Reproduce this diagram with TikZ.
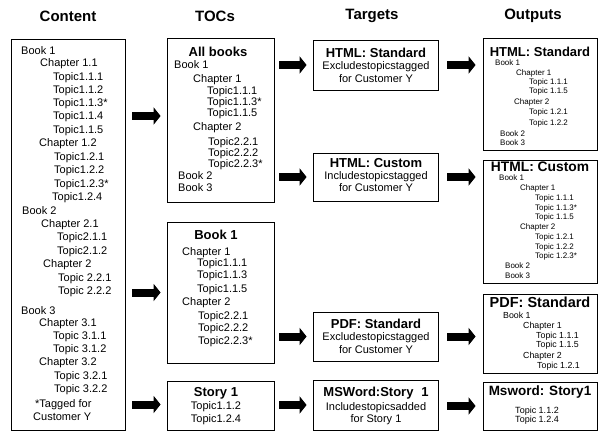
\documentclass[tikz,border=0pt]{standalone}
\usepackage{fontspec}
\setmainfont{Liberation Sans}
\usetikzlibrary{arrows.meta}
\begin{document}
\begin{tikzpicture}[x=1pt,y=-1pt,
  box/.style={draw=black, line width=0.8pt, inner sep=0pt},
  hdr/.style={font=\fontsize{15}{17}\selectfont\bfseries, inner sep=0pt},
  ttl/.style={font=\fontsize{13}{15}\selectfont\bfseries, inner sep=0pt},
  otl/.style={font=\fontsize{#1}{16}\selectfont\bfseries, inner sep=0pt},
  otl/.default=14,
  ctext/.style={font=\fontsize{11}{13}\selectfont, inner sep=0pt, anchor=west, text height=8pt, text depth=2.2pt},
  mtext/.style={font=\fontsize{11}{13}\selectfont, inner sep=0pt, text height=8pt, text depth=2.2pt},
  stext/.style={font=\fontsize{8}{9.5}\selectfont, inner sep=0pt, anchor=west, text height=5.8pt, text depth=1.6pt},
  ptext/.style={font=\fontsize{8.8}{10}\selectfont, inner sep=0pt, anchor=west, text height=6.3pt, text depth=1.7pt},
  smtext/.style={font=\fontsize{9}{10}\selectfont, inner sep=0pt, text height=6.3pt, text depth=1.7pt},
  barrow/.style={line width=8pt, -{Triangle[length=7pt,width=17pt]}}]
\useasboundingbox (0,0) rectangle (607,439);
\fill[white] (0,0) rectangle (607,439);

% headers
\node[hdr] (hcontent) at (68,16) {Content};
\node[hdr] (htocs) at (215,16) {TOCs};
\node[hdr] (htargets) at (372,16) {Targets};
\node[hdr] (houtputs) at (533,16) {Outputs};

% Content column
\node[box, minimum width=114pt, minimum height=391pt] (content) at (68,234.5) {};
\foreach \x/\y/\t [count=\i] in {
  21/52/Book 1, 40/64/Chapter 1.1, 53/78/Topic1.1.1, 53/91/Topic1.1.2,
  53/104/Topic1.1.3*, 53/117/Topic1.1.4, 53/131/Topic1.1.5, 39/144/Chapter 1.2,
  54/158/Topic1.2.1, 54/171/Topic1.2.2, 54/185/Topic1.2.3*, 52/198/Topic1.2.4,
  22/212/Book 2, 41/225/Chapter 2.1, 57/238/Topic2.1.1, 57/252/Topic2.1.2,
  43/265/Chapter 2, 58/279/Topic 2.2.1, 58/292/Topic 2.2.2,
  21/312/Book 3, 39/324/Chapter 3.1, 53/337/Topic 3.1.1, 53/350/Topic 3.1.2,
  39/363/Chapter 3.2, 54/377/Topic 3.2.1, 54/390/Topic 3.2.2,
  35/405/*Tagged for, 33/418/Customer Y}
  \node[ctext] (c\i) at (\x,\y) {\t};

% TOCs column
\node[box, minimum width=107pt, minimum height=164pt] (allbooks) at (220.5,120) {};
\node[ttl] (allbooksT) at (218,52) {All books};
\foreach \x/\y/\t [count=\i] in {
  174/66/Book 1, 193/80/Chapter 1, 207/92/Topic1.1.1, 207/103/Topic1.1.3*,
  207/114/Topic1.1.5, 193/128/Chapter 2, 208/143/Topic2.2.1, 208/154/Topic2.2.2,
  208/165/Topic2.2.3*, 178/177/Book 2, 178/189/Book 3}
  \node[ctext] (a\i) at (\x,\y) {\t};

\node[box, minimum width=107pt, minimum height=141pt] (book1) at (220.5,292.5) {};
\node[ttl] (book1T) at (216,235) {Book 1};
\foreach \x/\y/\t [count=\i] in {
  182/253/Chapter 1, 197/264/Topic1.1.1, 197/276/Topic1.1.3, 197/290/Topic1.1.5,
  182/303/Chapter 2, 198/317/Topic2.2.1, 198/329/Topic2.2.2, 198/342/Topic2.2.3*}
  \node[ctext] (b\i) at (\x,\y) {\t};

\node[box, minimum width=107pt, minimum height=49pt] (story) at (220.5,405.5) {};
\node[ttl] (storyT) at (216,393) {Story 1};
\node[mtext] (s1) at (216,407) {Topic1.1.2};
\node[mtext] (s2) at (216,420) {Topic1.2.4};

% Targets column
\node[box, minimum width=125pt, minimum height=50pt] (thstd) at (375.5,65) {};
\node[ttl] (thstdT) at (376,53) {HTML: Standard};
\node[mtext] (thstd1) at (376,67) {Excludestopicstagged};
\node[mtext] (thstd2) at (376,80) {for Customer Y};

\node[box, minimum width=125pt, minimum height=48pt] (thcus) at (375.5,177) {};
\node[ttl] (thcusT) at (376,163) {HTML: Custom};
\node[mtext] (thcus1) at (376,177) {Includestopicstagged};
\node[mtext] (thcus2) at (376,189) {for Customer Y};

\node[box, minimum width=125pt, minimum height=49pt] (tpdf) at (375.5,336.5) {};
\node[ttl] (tpdfT) at (376,324) {PDF: Standard};
\node[mtext] (tpdf1) at (376,338) {Excludestopicstagged};
\node[mtext] (tpdf2) at (376,351) {for Customer Y};

\node[box, minimum width=125pt, minimum height=50pt] (tword) at (375.5,405) {};
\node[ttl] (twordT) at (376,393) {MSWord:Story\hspace{0.6em}1};
\node[mtext] (tword1) at (376,408) {Includestopicsadded};
\node[mtext] (tword2) at (376,420) {for Story 1};

% Outputs column
\node[box, minimum width=114pt, minimum height=112pt] (ohstd) at (540,94) {};
\node[otl=13] (ohstdT) at (540,52) {HTML: Standard};
\foreach \x/\y/\t [count=\i] in {
  495/63/Book 1, 516/73/Chapter 1, 529/82/Topic 1.1.1, 529/91/Topic 1.1.5,
  514/102/Chapter 2, 529/112/Topic 1.2.1, 529/123/Topic 1.2.2,
  500/134/Book 2, 500/143/Book 3}
  \node[stext] (oa\i) at (\x,\y) {\t};

\node[box, minimum width=114pt, minimum height=123pt] (ohcus) at (540,221.5) {};
\node[otl=13.8] (ohcusT) at (540,167) {HTML: Custom};
\foreach \x/\y/\t [count=\i] in {
  499/178/Book 1, 520/188/Chapter 1, 535/198/Topic 1.1.1, 535/208/Topic 1.1.3*,
  535/217/Topic 1.1.5, 520/227/Chapter 2, 535/237/Topic 1.2.1, 535/247/Topic 1.2.2,
  535/256/Topic 1.2.3*, 505/266/Book 2, 505/276/Book 3}
  \node[stext] (ob\i) at (\x,\y) {\t};

\node[box, minimum width=114pt, minimum height=79pt] (opdf) at (540,333.5) {};
\node[otl=14.5] (opdfT) at (540,302) {PDF: Standard};
\foreach \x/\y/\t [count=\i] in {
  503/316/Book 1, 523/326/Chapter 1, 536/336/Topic 1.1.1, 536/345/Topic 1.1.5,
  523/356/Chapter 2, 537/366/Topic 1.2.1}
  \node[ptext] (oc\i) at (\x,\y) {\t};

\node[box, minimum width=114pt, minimum height=48pt] (oword) at (540,406) {};
\node[otl=13.5] (owordT) at (540,392) {Msword: Story1};
\node[smtext] (od1) at (537,411) {Topic 1.1.2};
\node[smtext] (od2) at (537,420) {Topic 1.2.4};

% arrows content -> TOCs
\draw[barrow, shorten <=7pt, shorten >=6pt] ([yshift=4pt]content.east |- allbooks.west) -- ([yshift=4pt]allbooks.west);
\draw[barrow, shorten <=7pt, shorten >=6pt] (content.east |- book1.west) -- (book1.west);
\draw[barrow, shorten <=7pt, shorten >=6pt] ([yshift=1pt]content.east |- story.west) -- ([yshift=1pt]story.west);

% arrows TOCs -> targets
\draw[barrow, shorten <=5pt, shorten >=6pt] (allbooks.east |- thstd.west) -- (thstd.west);
\draw[barrow, shorten <=5pt, shorten >=6pt] (allbooks.east |- thcus.west) -- (thcus.west);
\draw[barrow, shorten <=5pt, shorten >=6pt] (book1.east |- tpdf.west) -- (tpdf.west);
\draw[barrow, shorten <=5pt, shorten >=6pt] (story.east |- tword.west) -- (tword.west);

% arrows targets -> outputs
\draw[barrow, shorten <=9pt, shorten >=7pt] (thstd.east) -- (ohstd.west |- thstd.east);
\draw[barrow, shorten <=9pt, shorten >=7pt] (thcus.east) -- (ohcus.west |- thcus.east);
\draw[barrow, shorten <=9pt, shorten >=7pt] (tpdf.east) -- (opdf.west |- tpdf.east);
\draw[barrow, shorten <=9pt, shorten >=7pt] ([yshift=-1pt]tword.east) -- ([yshift=-1pt]oword.west |- tword.east);
\end{tikzpicture}
\end{document}
